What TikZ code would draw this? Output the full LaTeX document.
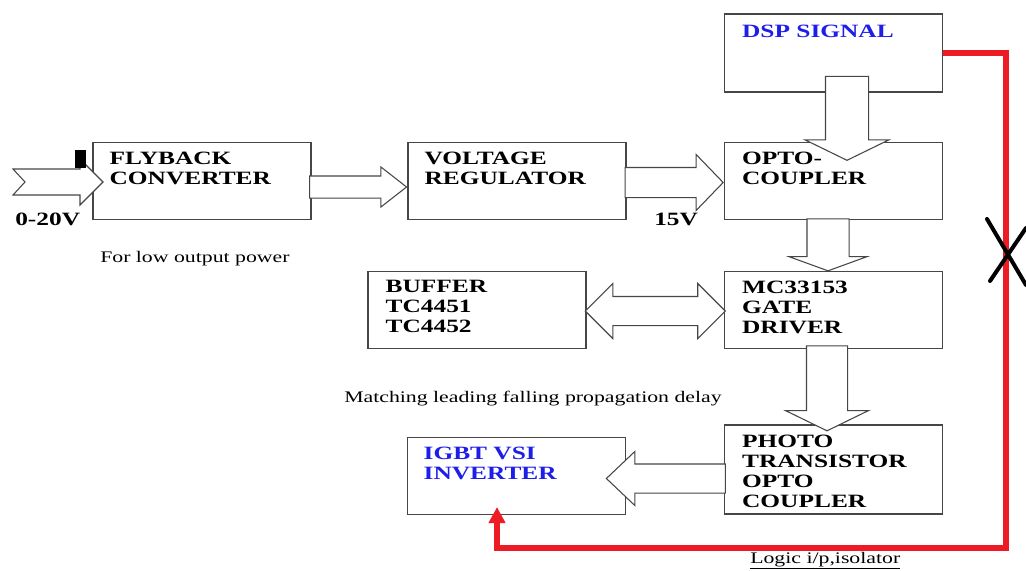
\documentclass[tikz,border=0pt]{standalone}
\usepackage{fontspec}
\setmainfont{Liberation Serif}[FakeStretch=1.35]
\usetikzlibrary{shapes.arrows,arrows.meta,calc}
\definecolor{dspblue}{RGB}{30,30,235}
\definecolor{wirered}{RGB}{237,28,36}
\definecolor{edgegray}{RGB}{70,70,70}
\tikzset{
  blockbox/.style={draw=edgegray,line width=0.9pt,minimum width=163.5pt,minimum height=57.75pt,inner sep=0pt},
  boxtext/.style={anchor=north west,align=left,inner sep=0pt,font=\fontsize{14.1}{15}\selectfont\bfseries},
  blockarrow/.style={single arrow,draw=edgegray,fill=white,line width=0.8pt,single arrow head indent=0pt},
  twoarrow/.style={double arrow,draw=edgegray,fill=white,line width=0.8pt,double arrow head indent=0pt},
  note/.style={anchor=base west,inner sep=0pt,font=\fontsize{12.1}{14}\selectfont},
  sigline/.style={draw=wirered,line width=4.5pt}
}
\begin{document}
\begin{tikzpicture}[x=0.75pt,y=-0.75pt]
        \useasboundingbox (0,0) rectangle (1026,571);
        %% Blocks
        \node[blockbox] (fly) at (202,181) {};
        \node[blockbox] (volt) at (517,181) {};
        \node[blockbox] (opto) at (833.5,181) {};
        \node[blockbox,minimum height=58.5pt] (dsp) at (833.5,53) {};
        \node[blockbox] (buf) at (477,310) {};
        \node[blockbox] (mc) at (833.5,310) {};
        \node[blockbox,minimum height=66.75pt] (photo) at (833.5,469.5) {};
        \node[blockbox] (igbt) at (516.5,476) {};
        %% Input arrow
        \draw[draw=edgegray,fill=white,line width=0.8pt] (13,169) -- (80,169) -- (80,159) -- (103,182)
            -- (80,205) -- (80,195) -- (13,195) -- (25,182) -- cycle;
        \fill (75,150) rectangle (86,168);
        %% Block arrows
        \node[blockarrow,inner sep=7.875pt,minimum height=72.75pt,minimum width=29.25pt,single arrow head extend=6.75pt,
            single arrow tip angle=76,anchor=tip] (flyvolt) at ($(volt.west)+(0,6)$) {};
        \node[blockarrow,inner sep=10.875pt,minimum height=73.5pt,minimum width=41.25pt,single arrow head extend=9.75pt,
            single arrow tip angle=92,anchor=tip] (voltopto) at ($(opto.west)+(0,1.5)$) {};
        \node[blockarrow,inner sep=15.75pt,minimum height=63pt,minimum width=62.25pt,single arrow head extend=15.375pt,
            single arrow tip angle=128,shape border rotate=270,anchor=tip] (dspopto) at ($(opto.north)+(13.5,19)$) {};
        \node[blockarrow,inner sep=15.375pt,minimum height=39pt,minimum width=57.75pt,single arrow head extend=13.5pt,
            single arrow tip angle=140,shape border rotate=270,anchor=tip] (optomc) at ($(mc.north)+(-5.5,0.5)$) {};
        \node[twoarrow,inner sep=10.5pt,minimum height=105pt,minimum width=40.5pt,double arrow head extend=9.75pt,
            double arrow tip angle=90] (bufmc) at ($(buf.east)!0.5!(mc.west)+(0,1)$) {};
        \node[blockarrow,inner sep=15pt,minimum height=63.75pt,minimum width=61.5pt,single arrow head extend=15.75pt,
            single arrow tip angle=128,shape border rotate=270,anchor=tip] (mcphoto) at ($(photo.north)+(-6.5,7)$) {};
        \node[blockarrow,inner sep=10.5pt,minimum height=89.25pt,minimum width=39.75pt,single arrow head extend=9.375pt,
            single arrow tip angle=87,shape border rotate=180,anchor=tip] (photoigbt) at ($(igbt.east)+(-20.5,2.5)$) {};
        %% Block texts
        \node[boxtext] (flyT) at ($(fly.north west)+(17,9.5)$) {FLYBACK\\CONVERTER};
        \node[boxtext] (voltT) at ($(volt.north west)+(17,9.5)$) {VOLTAGE\\REGULATOR};
        \node[boxtext] (optoT) at ($(opto.north west)+(18,9.5)$) {OPTO-\\COUPLER};
        \node[boxtext,text=dspblue] (dspT) at ($(dsp.north west)+(18,11)$) {DSP SIGNAL};
        \node[boxtext] (bufT) at ($(buf.north west)+(18,9.5)$) {BUFFER\\TC4451\\TC4452};
        \node[boxtext] (mcT) at ($(mc.north west)+(18,9.5)$) {MC33153\\GATE\\DRIVER};
        \node[boxtext] (photoT) at ($(photo.north west)+(18,10)$) {PHOTO\\TRANSISTOR\\OPTO\\COUPLER};
        \node[boxtext,text=dspblue] (igbtT) at ($(igbt.north west)+(16.5,10)$) {IGBT VSI\\INVERTER};
        %% Notes
        \node[note,font=\fontsize{14.1}{15}\selectfont\bfseries] (vin) at (15,225) {0-20V};
        \node[note,font=\fontsize{14.1}{15}\selectfont\bfseries] (vreg) at (654,225) {15V};
        \node[note] (lowpow) at (100,262) {For low output power};
        \node[note] (delay) at (344,402) {Matching leading falling propagation delay};
        \node[note] (iso) at (750,563) {\underline{Logic i/p,isolator}};
        %% Isolation wire
        \coordinate (w1) at (1006,53);
        \coordinate (w2) at (1006,548);
        \coordinate (w3) at (497,548);
        \coordinate (w4) at (497,507);
        \draw[sigline,-{Triangle[width=12pt,length=12pt]}] (dsp.east) -- (w1) -- (w2) -- (w3) -- (w4);
        \draw[line width=3pt,line cap=round] (987,219) -- (1026,285);
        \draw[line width=3pt,line cap=round] (990,281) -- (1026,228);
\end{tikzpicture}
\end{document}
